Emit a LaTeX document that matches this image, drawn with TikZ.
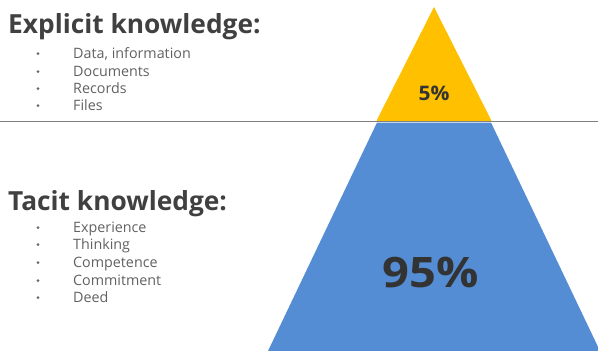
\documentclass[tikz,border=0pt]{standalone}
\usepackage{fontspec}
\setmainfont{Open Sans}
\begin{document}
\begin{tikzpicture}[x=1pt,y=-1pt,
  head/.style={anchor=base west,inner sep=0pt,text=black!75,font=\bfseries\fontsize{26.3}{30}\selectfont},
  item/.style={anchor=base west,inner sep=0pt,text=black!62,font=\fontsize{14.3}{16}\selectfont},
  bul/.style={circle,fill=black!60,inner sep=0pt,minimum size=3pt},
  pct/.style={inner sep=0pt,text=black!80}]
\useasboundingbox (0,0) rectangle (598,351);
\definecolor{gold}{HTML}{FFC000}
\definecolor{skyb}{HTML}{548DD4}
\draw[black!50,line width=1.3pt] (0,121.5) -- (598,121.5);
\coordinate (apex) at (434,7);
\fill[skyb] (377,122.5) -- (491,122.5) -- (600,351) -- (268,351) -- cycle;
\fill[gold] (apex) -- (491.5,120.8) -- (376.5,120.8) -- cycle;
\node[pct,font=\bfseries\fontsize{20}{22}\selectfont,xscale=1.05] (p5) at (434,93) {5\%};
\node[pct,font=\bfseries\fontsize{42}{46}\selectfont,xscale=1.12] (p95) at (431,272) {95\%};
\node[head] (h1) at (8,33) {Explicit knowledge:};
\node[head] (h2) at (8,210) {Tacit knowledge:};
\foreach \t/\yy [count=\i] in {{Data, information}/58,Documents/76,Records/93,Files/110}{
  \node[bul] (b1\i) at (38,\yy-4.5) {};
  \node[item] (e\i) at (73,\yy) {\t};
}
\foreach \t/\yy [count=\i] in {Experience/232,Thinking/249,Competence/267,Commitment/285,Deed/302}{
  \node[bul] (b2\i) at (38,\yy-4.5) {};
  \node[item] (t\i) at (73,\yy) {\t};
}
\end{tikzpicture}
\end{document}
